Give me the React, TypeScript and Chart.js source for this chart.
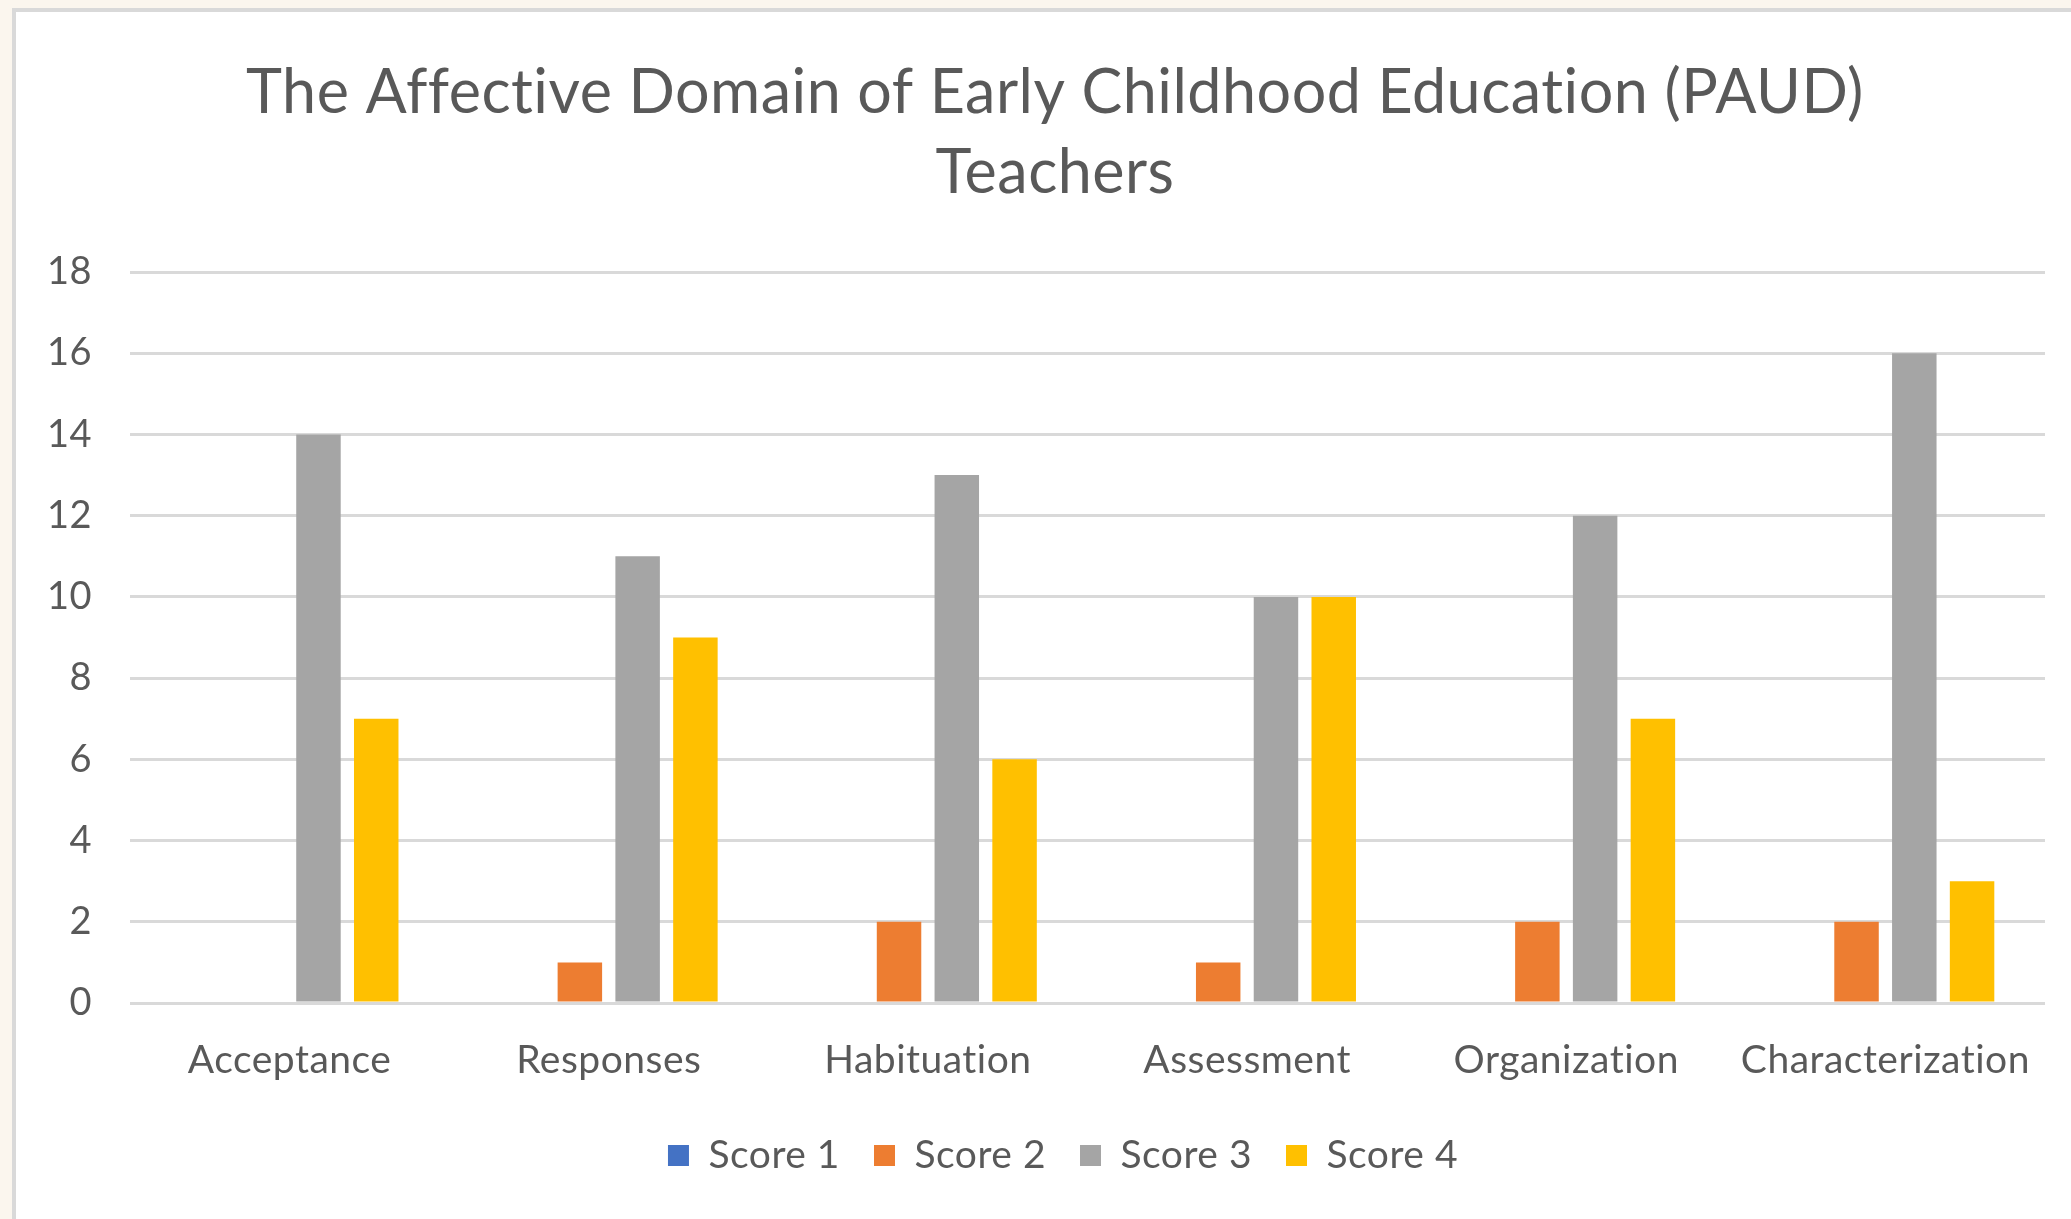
import React, { useEffect, useRef } from "react";
import { Chart, registerables } from "chart.js";

Chart.register(...registerables);

const categories = ["Acceptance", "Responses", "Habituation", "Assessment", "Organization", "Characterization"];
const seriesNames = ["Score 1", "Score 2", "Score 3", "Score 4"];
const score1 = [0, 0, 0, 0, 0, 0];
const score2 = [0, 1, 2, 1, 2, 2];
const score3 = [14, 11, 13, 10, 12, 16];
const score4 = [7, 9, 6, 10, 7, 3];
const seriesColors = ["#4472C4", "#ED7D31", "#A5A5A5", "#FFC000"];
const titleLines = ["The Affective Domain of Early Childhood Education (PAUD)", "Teachers"];
const yMin = 0;
const yMax = 18;
const yStep = 2;

const FONT = "Lato, Carlito, Calibri, 'Noto Sans', sans-serif";
const TEXT = "#595959";

const spacingPlugin = {
  id: "spacingTweaks",
  beforeLayout(chart: any) {
    chart.ctx.letterSpacing = "0.5px";
  },
  afterLayout(chart: any) {
    const y = chart.scales.y;
    if (y) y.left = 0;
    const lg = chart.legend;
    if (lg) {
      lg.left += 8;
      lg.right += 8;
    }
  },
  beforeDraw(chart: any) {
    chart.ctx.letterSpacing = "0.5px";
  },
};

export default function App() {
  const ref = useRef<HTMLCanvasElement | null>(null);

  useEffect(() => {
    if (!ref.current) return;
    const values = [score1, score2, score3, score4];
    const chart = new Chart(ref.current, {
      type: "bar",
      data: {
        labels: categories,
        datasets: seriesNames.map((name, i) => ({
          label: name,
          data: values[i],
          backgroundColor: seriesColors[i],
          borderWidth: 0,
          barPercentage: 0.77,
          categoryPercentage: 0.724,
        })),
      },
      plugins: [spacingPlugin],
      options: {
        responsive: false,
        animation: false,
        devicePixelRatio: 1,
        layout: { padding: { left: 65, right: 26, top: 0, bottom: 34 } },
        plugins: {
          tooltip: { enabled: false },
          title: {
            display: true,
            text: titleLines,
            color: TEXT,
            font: { family: FONT, size: 61, weight: "normal", lineHeight: "80px" } as any,
            padding: { top: 53, bottom: 59 },
          },
          legend: {
            position: "bottom",
            labels: {
              color: TEXT,
              font: { family: FONT, size: 39 },
              boxWidth: 21,
              boxHeight: 21,
              padding: 34,
            },
          },
        },
        scales: {
          x: {
            grid: { display: false, drawTicks: false },
            border: { display: false },
            ticks: {
              color: TEXT,
              font: { family: FONT, size: 39 },
              padding: 34,
              maxRotation: 0,
              autoSkip: false,
            },
            afterFit: (s: any) => {
              s.height = 99;
            },
          },
          y: {
            min: yMin,
            max: yMax,
            grid: { color: "#D9D9D9", lineWidth: 3, drawTicks: false },
            border: { display: false },
            ticks: {
              stepSize: yStep,
              color: TEXT,
              font: { family: FONT, size: 38 },
              padding: 38,
            },
            afterFit: (s: any) => {
              s.width = 65;
            },
          },
        },
      },
    });
    return () => chart.destroy();
  }, []);

  return (
    <div
      style={{
        position: "absolute",
        left: 0,
        top: 0,
        width: 2071,
        height: 1219,
        overflow: "hidden",
        background: "#FBF6EE",
      }}
    >
      <div
        style={{
          position: "absolute",
          left: 12,
          top: 8,
          width: 2100,
          height: 1250,
          background: "#FFFFFF",
          borderTop: "4px solid #D9D9D9",
          borderLeft: "4px solid #D9D9D9",
        }}
      />
      <canvas
        ref={ref}
        width={2071}
        height={1219}
        style={{ position: "absolute", left: 0, top: 0, width: 2071, height: 1219 }}
      />
    </div>
  );
}
